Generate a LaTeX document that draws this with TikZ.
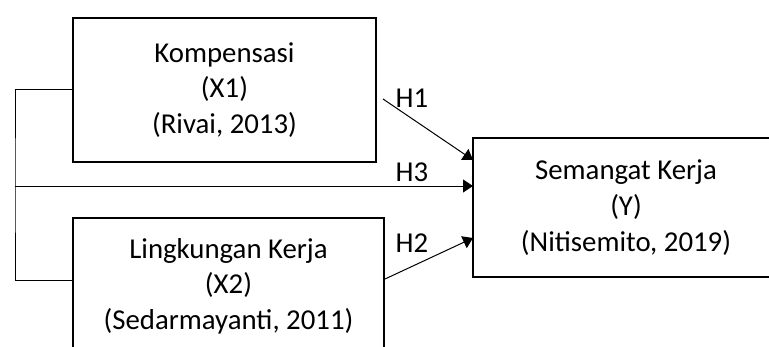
\documentclass[tikz,border=0pt]{standalone}
\usepackage{fontspec}
\setmainfont{Carlito}
\usetikzlibrary{arrows.meta}
\begin{document}
\begin{tikzpicture}[x=0.5pt,y=-0.5pt,
  box/.style={draw=black,line width=1pt,align=center,inner sep=0pt,
    font=\fontsize{14.4pt}{17.8pt}\selectfont,anchor=north west},
  lbl/.style={inner sep=0pt,font=\fontsize{14.4pt}{17.8pt}\selectfont},
  conn/.style={draw=black,line width=0.5pt},
  frame/.style={draw=black,line width=1pt},
  arr/.style={conn,-{Triangle[length=5pt,width=6.5pt]}}]
\useasboundingbox (0,0) rectangle (769,347);
\clip (0,0) rectangle (769,347);
\node[box,minimum width=151.5pt,minimum height=72pt] (X1) at (72,17)
  {Kompensasi\\(X1)\\(Rivai, 2013)};
\node[box,minimum width=155.5pt,minimum height=68pt] (X2) at (72,217)
  {Lingkungan Kerja\\(X2)\\(Sedarmayanti, 2011)};
\node[box,draw=none,minimum width=152pt,minimum height=68.5pt] (Y) at (473,138)
  {Semangat Kerja\\(Y)\\(Nitisemito, 2019)};
\draw[frame] ([xshift=30pt]Y.north east) -- (Y.north west) -- (Y.south west) -- ([xshift=30pt]Y.south east);
\coordinate (b) at (15,186);
\coordinate (h1s) at (383,99);
\draw[conn] (X1.west) -| (b) |- ([yshift=3pt]X2.west);
\draw[arr] (b) -- (b -| Y.west);
\draw[arr] (h1s) -- ([yshift=-11pt]Y.north west);
\draw[arr] ([yshift=3.5pt]X2.east) -- ([yshift=-15.25pt]Y.west);
\node[lbl] (H1) at (412,98) {H1};
\node[lbl] (H3) at (412,172) {H3};
\node[lbl] (H2) at (412,243) {H2};
\end{tikzpicture}
\end{document}
